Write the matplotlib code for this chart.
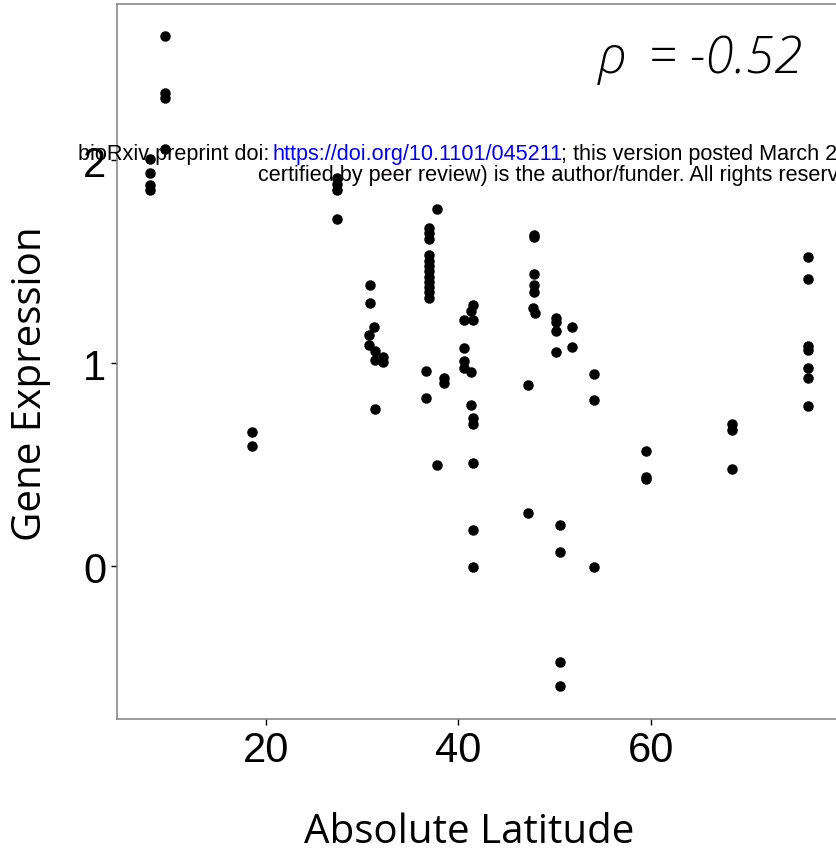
import matplotlib
matplotlib.use('Agg')
import matplotlib.pyplot as plt

# absolute latitude of each sample and its expression value
latitude = [
    7.99, 7.99, 7.99, 7.99,
    9.54, 9.54, 9.54, 9.54,
    18.61, 18.61,
    27.40, 27.40, 27.40, 27.40,
    30.83, 30.83, 31.28, 30.76, 30.76, 31.35, 31.35, 32.15, 32.21, 31.35,
    36.65, 36.65,
    36.99, 36.99, 36.99, 36.99, 36.99, 36.99, 36.99, 36.99, 36.99, 36.99, 36.99, 36.99,
    37.76, 37.76,
    38.55, 38.55,
    40.59, 40.59, 40.59, 40.59,
    41.32, 41.32, 41.32,
    41.56, 41.56, 41.56, 41.56, 41.56, 41.56, 41.56,
    47.27, 47.27,
    47.83, 47.83, 47.83, 47.83, 47.83, 47.73, 47.96,
    50.15, 50.15, 50.15, 50.15,
    50.56, 50.56, 50.56, 50.56,
    51.81, 51.81,
    54.04, 54.04, 54.04,
    59.49, 59.49, 59.49,
    68.42, 68.42, 68.42,
    76.28, 76.28, 76.28, 76.28, 76.28, 76.28, 76.28,
]
expression = [
    2.008, 1.940, 1.880, 1.856,
    2.612, 2.331, 2.307, 2.058,
    0.661, 0.590,
    1.915, 1.885, 1.855, 1.713,
    1.384, 1.295, 1.177, 1.139, 1.090, 1.058, 1.016, 1.028, 1.005, 0.774,
    0.962, 0.828,
    1.668, 1.640, 1.612, 1.531, 1.505, 1.480, 1.452, 1.425, 1.400, 1.375, 1.350, 1.320,
    1.759, 0.500,
    0.926, 0.902,
    1.213, 1.077, 1.011, 0.975,
    1.257, 0.956, 0.795,
    1.287, 1.213, 0.730, 0.700, 0.508, 0.177, -0.003,
    0.890, 0.259,
    1.632, 1.620, 1.438, 1.385, 1.353, 1.271, 1.246,
    1.221, 1.205, 1.159, 1.053,
    0.200, 0.070, -0.471, -0.594,
    1.180, 1.082,
    0.947, 0.820, -0.003,
    0.569, 0.440, 0.430,
    0.700, 0.669, 0.480,
    1.525, 1.415, 1.085, 1.065, 0.975, 0.926, 0.787,
]
rho_value = '= -0.52'
x_ticks = [20, 40, 60]
y_ticks = [0, 1, 2]

W, H = 836, 854
fig = plt.figure(figsize=(W / 100, H / 100), dpi=100)

# panel runs a little past the right edge of the picture
left, right, top, bottom = 117.3, 840.6, 4.7, 720.0
ax = fig.add_axes([left / W, 1 - bottom / H, (right - left) / W, (bottom - top) / H])

ax.scatter(latitude, expression, s=57, c='black', linewidths=0, zorder=3)

xmin, xmax = min(latitude), max(latitude)
ymin, ymax = min(expression), max(expression)
ax.set_xlim(xmin - 0.05 * (xmax - xmin), xmax + 0.05 * (xmax - xmin))
ax.set_ylim(ymin - 0.05 * (ymax - ymin), ymax + 0.05 * (ymax - ymin))

ax.set_xticks(x_ticks)
ax.set_yticks(y_ticks)
ax.tick_params(length=4, width=1, color='black', labelsize=30, pad=4)
for lab in ax.get_xticklabels() + ax.get_yticklabels():
    lab.set_family('Liberation Sans')
for side in ['left', 'bottom', 'top', 'right']:
    ax.spines[side].set_color('#808080')
    ax.spines[side].set_linewidth(1.1)

fig.text(469.5 / W, 1 - 843 / H, 'Absolute Latitude', ha='center', va='baseline',
         family='Open Sans', fontsize=29)
fig.text(31 / W, 1 - 383.5 / H, 'Gene Expression', ha='center', va='center',
         rotation=90, family='Open Sans', fontsize=29)

# correlation label: rho on its own, value right-aligned
fig.text(598 / W, 1 - 73 / H, 'ρ', ha='left', va='baseline',
         family='Open Sans', style='italic', weight='light', fontsize=37)
fig.text(802 / W, 1 - 73 / H, rho_value, ha='right', va='baseline',
         family='Open Sans', style='italic', weight='light', fontsize=37)

# preprint stamp laid over the figure
wm = dict(family='Liberation Sans', fontsize=15.55, va='baseline', zorder=10)
fig.text(78.3 / W, 1 - 160 / H, 'bioRxiv preprint doi: ', color='black', **wm)
fig.text(272.7 / W, 1 - 160 / H, 'https://doi.org/10.1101/045211', color='blue', **wm)
fig.text(561 / W, 1 - 160 / H, '; this version posted March 22', color='black', **wm)
fig.text(257.7 / W, 1 - 181 / H, 'certified by peer review) is the author/funder. All rights reserved',
         color='black', **wm)

fig.savefig('out.png', dpi=100)
